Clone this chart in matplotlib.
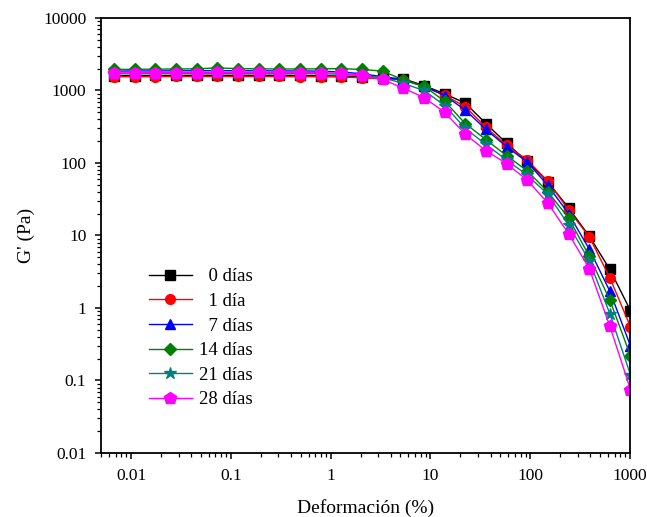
import matplotlib
matplotlib.use("Agg")
import matplotlib.pyplot as plt
from matplotlib.ticker import FixedLocator, FixedFormatter, LogLocator, NullFormatter

# deformación (%)
strain = [0.00676, 0.0109, 0.0175, 0.0283, 0.0455, 0.0733, 0.118, 0.190, 0.306,
          0.493, 0.794, 1.28, 2.06, 3.32, 5.35, 8.61, 13.9, 22.3, 36.0, 57.9,
          93.3, 150, 242, 390, 628, 1010]

g_0 = [1600, 1600, 1610, 1610, 1620, 1620, 1620, 1620, 1620, 1610, 1600,
       1580, 1550, 1500, 1450, 1170, 900, 670, 350, 187, 105, 55, 24, 9.8, 3.4, 0.92]
g_1 = [1550, 1550, 1550, 1560, 1560, 1560, 1560, 1560, 1560, 1550, 1550,
       1530, 1500, 1450, 1400, 1130, 860, 600, 310, 175, 110, 56, 22.5, 9.6, 2.6, 0.55]
g_7 = [1850, 1860, 1860, 1870, 1870, 1880, 1870, 1870, 1860, 1860, 1850,
       1800, 1700, 1550, 1400, 1150, 850, 540, 290, 168, 103, 49, 20, 6.5, 1.7, 0.3]
g_14 = [1950, 1960, 1970, 1980, 1990, 2050, 2000, 1990, 1980, 1980, 1990,
        2000, 1950, 1850, 1400, 1150, 710, 350, 210, 126, 78, 40, 17.5, 5.2, 1.28, 0.22]
g_21 = [1700, 1700, 1710, 1710, 1720, 1720, 1720, 1720, 1710, 1710, 1700,
        1680, 1600, 1500, 1250, 1000, 620, 300, 180, 110, 68, 37, 14, 4.5, 0.83, 0.12]
g_28 = [1750, 1760, 1760, 1770, 1770, 1780, 1780, 1780, 1770, 1770, 1760,
        1730, 1610, 1420, 1080, 800, 500, 250, 148, 98, 58, 28, 10.6, 3.5, 0.56, 0.075]

# etiquetas con espacio inicial para alinear los números de una cifra
series = [
    ("  0 días", g_0, "black", "s"),
    ("  1 día", g_1, "red", "o"),
    ("  7 días", g_7, "blue", "^"),
    ("14 días", g_14, "#008000", "D"),
    ("21 días", g_21, "#008080", "*"),
    ("28 días", g_28, "#ff00ff", "p"),
]

x_ticks = [0.01, 0.1, 1, 10, 100, 1000]
x_labels = ["0.01", "0.1", "1", "10", "100", "1000"]
y_ticks = [0.01, 0.1, 1, 10, 100, 1000, 10000]
y_labels = ["0.01", "0.1", "1", "10", "100", "1000", "10000"]

plt.rcParams["font.family"] = ["Liberation Serif", "DejaVu Serif"]

fig = plt.figure(figsize=(6.47, 5.17), dpi=100)
ax = fig.add_axes([0.1561, 0.1238, 0.8177, 0.8414])

for label, vals, color, mk in series:
    ms = 9 if mk in ("*", "p") else 7
    if mk == "D":
        ms = 6.5
    ax.plot(strain, vals, color=color, marker=mk, markersize=ms, linewidth=1,
            label=label)

ax.set_xscale("log")
ax.set_yscale("log")
ax.set_xlim(0.005, 1000)
ax.set_ylim(0.01, 10000)

ax.xaxis.set_major_locator(FixedLocator(x_ticks))
ax.xaxis.set_major_formatter(FixedFormatter(x_labels))
ax.yaxis.set_major_locator(FixedLocator(y_ticks))
ax.yaxis.set_major_formatter(FixedFormatter(y_labels))
ax.xaxis.set_minor_locator(LogLocator(base=10, subs=range(2, 10), numticks=20))
ax.yaxis.set_minor_locator(LogLocator(base=10, subs=range(2, 10), numticks=20))
ax.xaxis.set_minor_formatter(NullFormatter())
ax.yaxis.set_minor_formatter(NullFormatter())

ax.tick_params(which="both", direction="out", top=False, right=False, labelsize=12.5)
ax.tick_params(which="major", length=4.5, width=1.1, pad=6)
ax.tick_params(which="minor", length=2.8, width=0.9)
for sp in ax.spines.values():
    sp.set_linewidth(1.3)

ax.set_xlabel("Deformación (%)", fontsize=14, labelpad=11)
ax.set_ylabel("G' (Pa)", fontsize=14, labelpad=6)

ax.legend(loc="upper left", bbox_to_anchor=(0.065, 0.455), frameon=False,
          fontsize=13.5, handlelength=2.3, handletextpad=0.4,
          labelspacing=0.4, borderaxespad=0.3)

fig.savefig("out.png", dpi=100)
